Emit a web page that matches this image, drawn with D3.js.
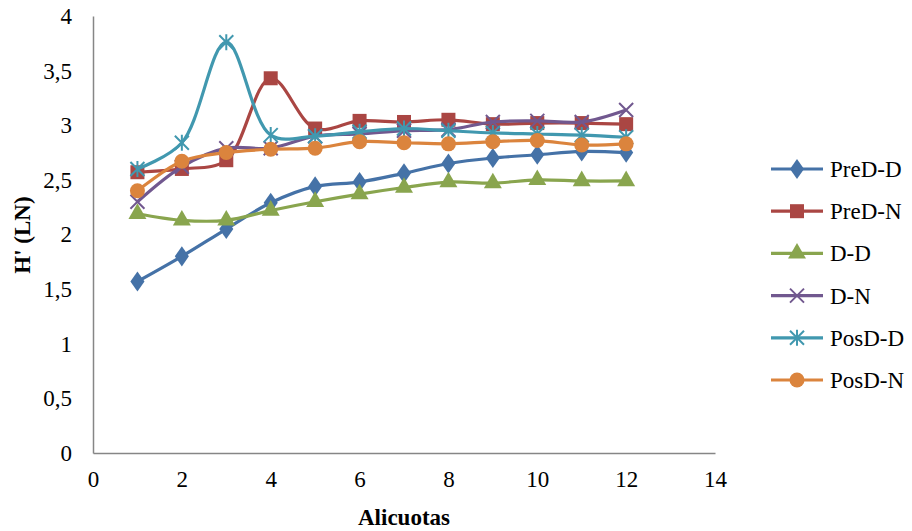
<!DOCTYPE html>
<html>
<head>
<meta charset="utf-8">
<script src="https://cdn.jsdelivr.net/npm/d3@7"></script>
<style>
body { margin: 0; background: #fff; }
svg text { font-family: "Times New Roman", "Liberation Serif", "DejaVu Serif", serif; }
</style>
</head>
<body>
<svg id="chart" width="912" height="531"></svg>
<script>
var alicuotas = [1, 2, 3, 4, 5, 6, 7, 8, 9, 10, 11, 12];
var preDD = [1.57, 1.80, 2.05, 2.29, 2.44, 2.48, 2.56, 2.65, 2.70, 2.73, 2.76, 2.75];
var preDN = [2.57, 2.60, 2.68, 3.43, 2.97, 3.04, 3.03, 3.05, 3.01, 3.02, 3.02, 3.01];
var dD = [2.19, 2.13, 2.13, 2.22, 2.30, 2.37, 2.43, 2.48, 2.47, 2.50, 2.49, 2.49];
var dN = [2.30, 2.62, 2.79, 2.79, 2.90, 2.92, 2.95, 2.96, 3.03, 3.04, 3.03, 3.14];
var posDD = [2.60, 2.84, 3.76, 2.91, 2.90, 2.94, 2.97, 2.95, 2.93, 2.92, 2.91, 2.89];
var posDN = [2.40, 2.67, 2.75, 2.78, 2.79, 2.85, 2.84, 2.83, 2.85, 2.86, 2.82, 2.83];
var seriesNames = ["PreD-D", "PreD-N", "D-D", "D-N", "PosD-D", "PosD-N"];
var xTicks = [0, 2, 4, 6, 8, 10, 12, 14];
var yTicks = [0, 0.5, 1, 1.5, 2, 2.5, 3, 3.5, 4];

var series = [
  {name: seriesNames[0], values: preDD, color: "#4572A7", marker: "diamond"},
  {name: seriesNames[1], values: preDN, color: "#AA4643", marker: "square"},
  {name: seriesNames[2], values: dD, color: "#89A54E", marker: "triangle"},
  {name: seriesNames[3], values: dN, color: "#71588F", marker: "x"},
  {name: seriesNames[4], values: posDD, color: "#4198AF", marker: "star"},
  {name: seriesNames[5], values: posDN, color: "#DB843D", marker: "circle"}
];

var svg = d3.select("#chart");
var x = d3.scaleLinear().domain([0, 14]).range([93, 715]);
var y = d3.scaleLinear().domain([0, 4]).range([453, 16]);
var fmt = function(d){ return String(d).replace(".", ","); };

// axes
var xAxis = svg.append("g").attr("transform", "translate(0,453)")
  .call(d3.axisBottom(x).tickValues(xTicks).tickSize(0).tickPadding(18).tickFormat(fmt));
var yAxis = svg.append("g").attr("transform", "translate(93,0)")
  .call(d3.axisLeft(y).tickValues(yTicks).tickSize(0).tickPadding(21).tickFormat(fmt));
[xAxis, yAxis].forEach(function(a){
  a.attr("font-family", null).attr("font-size", null);
  a.select(".domain").attr("stroke", "#868686").attr("stroke-width", 1.5);
  a.selectAll("text").attr("font-size", 23).attr("fill", "#000");
});

svg.append("text")
  .attr("x", 404).attr("y", 525)
  .attr("text-anchor", "middle")
  .attr("font-size", 23).attr("font-weight", "bold")
  .text("Alicuotas");
svg.append("text")
  .attr("transform", "translate(30,235) rotate(-90)")
  .attr("text-anchor", "middle")
  .attr("font-size", 23).attr("font-weight", "bold")
  .text("H' (LN)");

function drawMarker(g, type, color) {
  if (type === "diamond") {
    g.append("path").attr("d", d3.symbol(d3.symbolDiamond, 130)()).attr("fill", color)
      .attr("transform", "scale(1.15,0.95)");
  } else if (type === "square") {
    g.append("rect").attr("x", -7).attr("y", -7).attr("width", 14).attr("height", 14).attr("fill", color);
  } else if (type === "triangle") {
    g.append("path").attr("d", d3.symbol(d3.symbolTriangle, 140)()).attr("fill", color);
  } else if (type === "x") {
    g.append("path").attr("d", "M-7,-7L7,7M-7,7L7,-7").attr("stroke", color).attr("stroke-width", 2).attr("fill", "none");
  } else if (type === "star") {
    g.append("path").attr("d", "M-7,-7L7,7M-7,7L7,-7M0,-8L0,8").attr("stroke", color).attr("stroke-width", 2).attr("fill", "none");
  } else if (type === "circle") {
    g.append("circle").attr("r", 7.5).attr("fill", color);
  }
}

var line = d3.line()
  .x(function(d){ return x(d[0]); })
  .y(function(d){ return y(d[1]); })
  .curve(d3.curveCatmullRom.alpha(0.5));

series.forEach(function(s){
  var pts = alicuotas.map(function(a, i){ return [a, s.values[i]]; });
  var g = svg.append("g").attr("class", "series");
  g.append("path").datum(pts)
    .attr("d", line)
    .attr("fill", "none")
    .attr("stroke", s.color)
    .attr("stroke-width", 3.2)
    .attr("stroke-linejoin", "round");
  g.selectAll("g.pt").data(pts).enter().append("g")
    .attr("class", "pt")
    .attr("transform", function(d){ return "translate(" + x(d[0]) + "," + y(d[1]) + ")"; })
    .each(function(){ drawMarker(d3.select(this), s.marker, s.color); });
});

// legend
var legend = svg.append("g").selectAll("g").data(series).enter().append("g")
  .attr("transform", function(d, i){ return "translate(771," + (169 + i * 42.2) + ")"; });
legend.append("line").attr("x1", 0).attr("x2", 52)
  .attr("stroke", function(d){ return d.color; }).attr("stroke-width", 3.2);
legend.append("g").attr("transform", "translate(26,0)")
  .each(function(d){ drawMarker(d3.select(this), d.marker, d.color); });
legend.append("text").attr("x", 59).attr("y", 8)
  .attr("font-size", 23).attr("fill", "#000")
  .text(function(d){ return d.name; });
</script>
</body>
</html>
